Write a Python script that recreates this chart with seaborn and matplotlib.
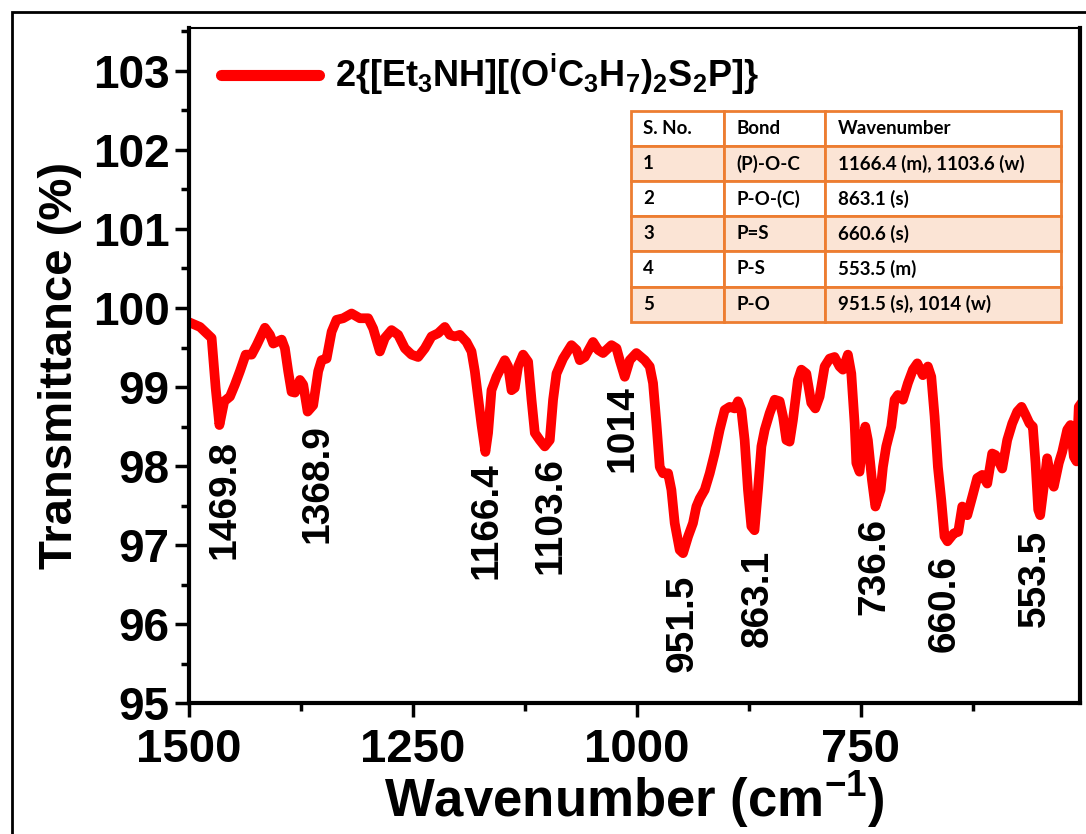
import matplotlib
matplotlib.use("Agg")
import matplotlib.pyplot as plt
import matplotlib.patches as mpatches
from matplotlib.ticker import MultipleLocator
import seaborn as sns
import pandas as pd

# ---------------- data ----------------
wavenumber = [1500.0, 1487.7, 1474.7, 1470.2, 1466.0, 1460.6, 1454.2, 1448.7, 1443.1, 1436.7,
              1430.0, 1424.4, 1415.2, 1409.6, 1405.9, 1396.5, 1392.9, 1389.2, 1385.4, 1381.7,
              1376.1, 1372.4, 1367.5, 1361.3, 1355.7, 1351.9, 1346.3, 1340.7, 1335.2, 1327.8,
              1318.4, 1309.2, 1299.9, 1294.3, 1286.8, 1281.3, 1273.8, 1266.4, 1258.9, 1251.5,
              1244.1, 1236.6, 1229.1, 1221.8, 1214.3, 1208.7, 1203.1, 1197.5, 1190.1, 1184.5,
              1180.8, 1177.1, 1173.3, 1169.0, 1166.0, 1162.2, 1156.6, 1147.3, 1143.6, 1139.8,
              1136.2, 1132.5, 1126.9, 1121.3, 1117.5, 1113.8, 1108.3, 1102.7, 1097.1, 1093.4,
              1089.6, 1082.3, 1072.9, 1067.3, 1063.6, 1058.0, 1048.8, 1043.2, 1037.6, 1028.2,
              1022.6, 1019.0, 1013.4, 1007.8, 1000.4, 991.1, 985.5, 981.8, 978.0, 974.3,
              970.6, 965.0, 961.3, 957.6, 952.0, 948.3, 942.7, 937.2, 933.4, 929.7,
              924.1, 918.5, 913.0, 907.4, 901.8, 896.2, 890.6, 886.9, 883.2, 879.5,
              875.8, 872.0, 868.5, 864.6, 860.8, 857.1, 851.6, 846.0, 840.4, 836.7,
              832.9, 829.3, 825.6, 820.0, 816.2, 810.6, 805.1, 800.6, 795.8, 790.2,
              784.6, 779.1, 773.5, 769.8, 764.2, 760.4, 756.7, 754.8, 751.2, 747.5,
              744.8, 741.9, 737.4, 733.5, 727.7, 725.1, 721.4, 715.8, 712.1, 708.4,
              702.8, 697.2, 691.6, 686.7, 680.5, 674.9, 671.1, 667.4, 663.7, 659.9,
              656.3, 653.0, 645.9, 641.0, 636.5, 630.9, 625.4, 619.8, 614.2, 608.6,
              603.1, 599.4, 591.9, 586.3, 580.7, 575.1, 570.3, 565.9, 561.4, 557.7,
              554.7, 551.7, 549.5, 545.5, 541.7, 538.0, 534.3, 528.7, 524.9, 519.3,
              515.6, 511.9, 508.9, 506.4, 500.0]
transmittance = [99.82, 99.76, 99.62, 98.99, 98.52, 98.82, 98.88, 99.03, 99.20, 99.41,
                 99.41, 99.53, 99.75, 99.66, 99.55, 99.60, 99.49, 99.20, 98.94, 98.93,
                 99.09, 99.03, 98.69, 98.77, 99.20, 99.34, 99.36, 99.70, 99.85, 99.87,
                 99.93, 99.87, 99.87, 99.74, 99.45, 99.62, 99.72, 99.66, 99.49, 99.41,
                 99.38, 99.49, 99.64, 99.68, 99.76, 99.66, 99.64, 99.66, 99.57, 99.45,
                 99.20, 98.86, 98.52, 98.18, 98.42, 98.96, 99.13, 99.34, 99.26, 98.96,
                 98.99, 99.26, 99.41, 99.32, 98.84, 98.42, 98.33, 98.25, 98.33, 98.84,
                 99.17, 99.36, 99.53, 99.47, 99.34, 99.38, 99.57, 99.47, 99.43, 99.53,
                 99.49, 99.34, 99.13, 99.34, 99.43, 99.34, 99.26, 99.05, 98.54, 97.99,
                 97.91, 97.91, 97.70, 97.28, 96.94, 96.90, 97.11, 97.28, 97.49, 97.59,
                 97.70, 97.91, 98.16, 98.46, 98.71, 98.75, 98.73, 98.82, 98.71, 98.33,
                 97.70, 97.24, 97.19, 97.70, 98.25, 98.46, 98.67, 98.84, 98.82, 98.63,
                 98.33, 98.31, 98.58, 99.09, 99.22, 99.17, 98.80, 98.73, 98.88, 99.26,
                 99.36, 99.38, 99.26, 99.22, 99.41, 99.17, 98.54, 98.04, 97.93, 98.33,
                 98.50, 98.33, 97.83, 97.49, 97.70, 97.99, 98.25, 98.50, 98.84, 98.90,
                 98.84, 99.05, 99.22, 99.30, 99.15, 99.26, 99.13, 98.63, 97.99, 97.57,
                 97.11, 97.05, 97.15, 97.17, 97.49, 97.38, 97.61, 97.85, 97.89, 97.78,
                 98.16, 98.14, 97.97, 98.33, 98.54, 98.69, 98.75, 98.65, 98.54, 98.50,
                 98.04, 97.45, 97.38, 97.74, 98.10, 97.87, 97.74, 98.04, 98.18, 98.46,
                 98.52, 98.12, 98.06, 98.75, 98.85]

peak_labels = ["1469.8", "1368.9", "1166.4", "1103.6", "1014",
               "951.5", "863.1", "736.6", "660.6", "553.5"]
peak_label_x = [1459.8, 1356.0, 1167.4, 1096.0, 1015.6,
                948.7, 865.0, 734.4, 656.3, 555.9]
peak_label_top = [98.33, 98.53, 98.05, 98.11, 99.02,
                  96.63, 96.94, 97.35, 96.87, 97.20]

series_label = r"2{[Et$_3$NH][(O$^i$C$_3$H$_7$)$_2$S$_2$P]}"

table_header = ["S. No.", "Bond", "Wavenumber"]
table_sno = ["1", "2", "3", "4", "5"]
table_bond = ["(P)-O-C", "P-O-(C)", "P=S", "P-S", "P-O"]
table_wn = ["1166.4 (m), 1103.6 (w)", "863.1 (s)", "660.6 (s)", "553.5 (m)",
            "951.5 (s), 1014 (w)"]

# ---------------- style ----------------
sns.set_style("ticks")
plt.rcParams["font.family"] = ["Liberation Sans", "DejaVu Sans"]
plt.rcParams["font.weight"] = "bold"
plt.rcParams["text.color"] = "black"
plt.rcParams["axes.labelcolor"] = "black"
plt.rcParams["xtick.color"] = "black"
plt.rcParams["ytick.color"] = "black"
plt.rcParams["axes.edgecolor"] = "black"
plt.rcParams["mathtext.fontset"] = "custom"
plt.rcParams["mathtext.rm"] = "Liberation Sans:bold"
plt.rcParams["mathtext.bf"] = "Liberation Sans:bold"
plt.rcParams["mathtext.it"] = "Liberation Sans:bold"
plt.rcParams["mathtext.default"] = "bf"

fig = plt.figure(figsize=(10.86, 8.34), dpi=100)
ax = fig.add_axes([0.174, 0.1565, 0.8205, 0.81])

df = pd.DataFrame({"Wavenumber": wavenumber, "Transmittance": transmittance})
sns.lineplot(data=df, x="Wavenumber", y="Transmittance", ax=ax, color="#ff0000",
             linewidth=7, label=series_label, sort=False)

ax.set_xlim(1500, 505)
ax.set_ylim(95, 103.54)
ax.xaxis.set_major_locator(MultipleLocator(250))
ax.xaxis.set_minor_locator(MultipleLocator(125))
ax.yaxis.set_major_locator(MultipleLocator(1))
ax.yaxis.set_minor_locator(MultipleLocator(0.5))
ax.tick_params(axis="both", which="major", direction="out", length=10, width=2.5,
               colors="black")
ax.tick_params(axis="both", which="minor", direction="out", length=6, width=2.5,
               colors="black")
ax.tick_params(axis="y", labelsize=33, pad=4)
ax.tick_params(axis="x", labelsize=34, pad=8)
for lab in ax.get_xticklabels() + ax.get_yticklabels():
    lab.set_fontweight("bold")
    lab.set_color("black")

for side in ["left", "bottom", "right"]:
    ax.spines[side].set_linewidth(3)
    ax.spines[side].set_color("black")
ax.spines["top"].set_linewidth(1.5)
ax.spines["top"].set_color("black")
ax.spines["right"].set_visible(True)
ax.spines["top"].set_visible(True)

ax.set_xlabel(r"Wavenumber (cm$^{-1}$)", fontsize=38, fontweight="bold", labelpad=-2,
              color="black")
ax.set_ylabel("Transmittance (%)", fontsize=34, fontweight="bold", labelpad=8,
              color="black")

for txt, px, py in zip(peak_labels, peak_label_x, peak_label_top):
    ax.text(px, py, txt, rotation=90, ha="center", va="top", fontsize=28,
            fontweight="bold", color="black")

leg = ax.legend(loc="upper left", bbox_to_anchor=(0.0, 1.012), frameon=False,
                handlelength=2.7, handletextpad=0.45,
                prop={"weight": "bold", "size": 26})
for h in leg.get_lines():
    h.set_linewidth(8)
for t in leg.get_texts():
    t.set_color("black")

# table
orange = "#ED7D31"
peach = "#FBE4D5"
cells = [[s, b, w] for s, b, w in zip(table_sno, table_bond, table_wn)]
tab = ax.table(cellText=cells, colLabels=table_header, cellLoc="left", colLoc="left",
               colWidths=[0.217, 0.235, 0.548],
               bbox=[0.4957, 0.5652, 0.483, 0.3119])
tab.auto_set_font_size(False)
col_px = [93.3, 101.3, 235.7]
for (r, c), cell in tab.get_celld().items():
    cell.set_edgecolor(orange)
    cell.set_linewidth(2)
    cell.PAD = 12.5 / col_px[c]
    if r in (1, 3, 5):
        cell.set_facecolor(peach)
    else:
        cell.set_facecolor("white")
    t = cell.get_text()
    t.set_fontsize(13.5)
    t.set_fontweight("bold")
    t.set_fontfamily(["Lato", "Liberation Sans"])
    t.set_color("black")
    t.set_ha("left")

# outer frame around the figure
fig.patches.append(mpatches.Rectangle((0.011, -1.0), 2.0, 1.9856, transform=fig.transFigure,
                                      fill=False, edgecolor="black", linewidth=2))

fig.savefig("out.png", dpi=100)
